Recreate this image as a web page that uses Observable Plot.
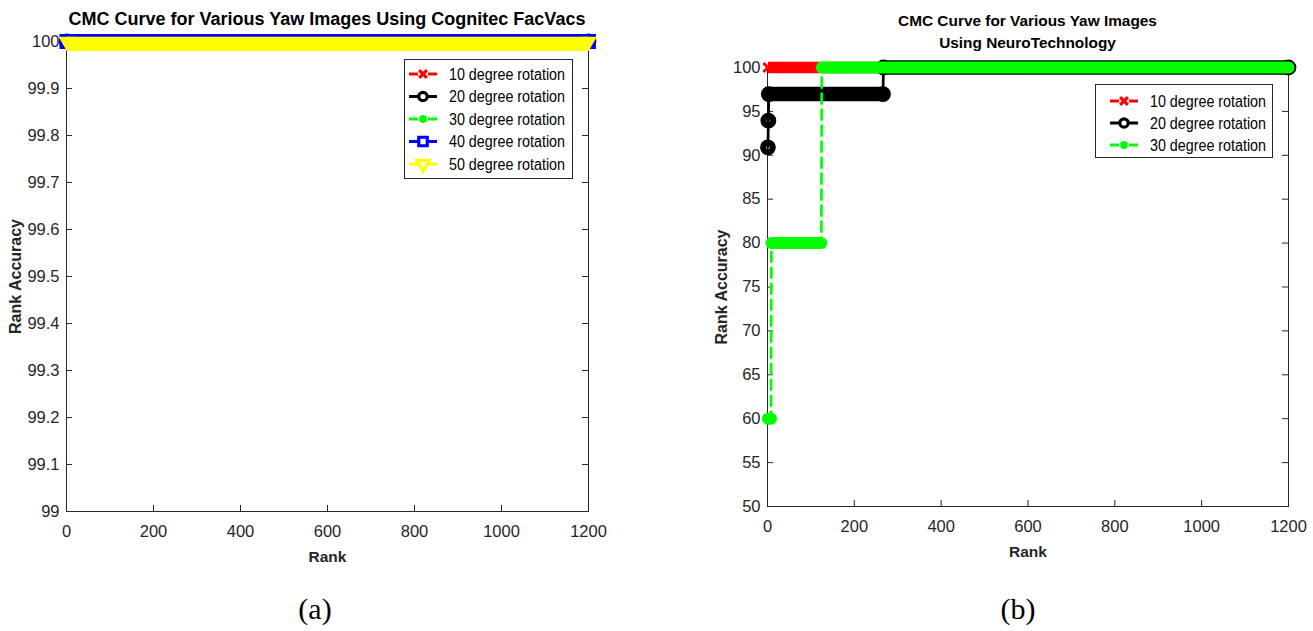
<!DOCTYPE html>
<html><head><meta charset="utf-8">
<script src="https://cdn.jsdelivr.net/npm/d3@7"></script>
<script src="https://cdn.jsdelivr.net/npm/@observablehq/plot@0.6"></script>
<style>
html,body{margin:0;padding:0;background:#fff;}
#root{position:relative;width:1313px;height:631px;overflow:hidden;font-family:"Liberation Sans",Arial,sans-serif;}
#root > svg{position:absolute;}
</style></head><body><div id="root"></div>
<script>
// ---------- data ----------
const xTicks = [0, 200, 400, 600, 800, 1000, 1200];
const xTickLabels = ["0", "200", "400", "600", "800", "1000", "1200"];
const yTicksA = [99, 99.1, 99.2, 99.3, 99.4, 99.5, 99.6, 99.7, 99.8, 99.9, 100];
const yTickLabelsA = ["99", "99.1", "99.2", "99.3", "99.4", "99.5", "99.6", "99.7", "99.8", "99.9", "100"];
const yTicksB = [50, 55, 60, 65, 70, 75, 80, 85, 90, 95, 100];

const seriesA = ["10 degree rotation", "20 degree rotation", "30 degree rotation", "40 degree rotation", "50 degree rotation"];
const ranksA10 = [1, 1200], accA10 = [100, 100];
const ranksA20 = [1, 1200], accA20 = [100, 100];
const ranksA30 = [1, 1200], accA30 = [100, 100];
const ranksA40 = [1, 1200], accA40 = [100, 100];
const ranksA50 = [1, 1200], accA50 = [100, 100];

const seriesB = ["10 degree rotation", "20 degree rotation", "30 degree rotation"];
const ranksB10 = [1, 1200], accB10 = [100, 100];
const ranksB20 = [1, 2, 3, 266, 267, 1200], accB20 = [90.91, 93.94, 96.97, 96.97, 100, 100];
const ranksB30 = [1, 8, 9, 124, 125, 1200], accB30 = [60, 60, 80, 80, 100, 100];

const titleA = "CMC Curve for Various Yaw Images Using Cognitec FacVacs";
const titleB = ["CMC Curve for Various Yaw Images", "Using NeuroTechnology"];
const xLabel = "Rank", yLabel = "Rank Accuracy";

// ---------- styles ----------
const triDown = {draw(ctx, size) {
  const y = Math.sqrt(size / (Math.sqrt(3) * 3)), s3 = Math.sqrt(3);
  ctx.moveTo(0, 2 * y); ctx.lineTo(-s3 * y, -y); ctx.lineTo(s3 * y, -y); ctx.closePath();
}};
const styles = [
  {color: "#ff0000", symbol: "times", d3sym: d3.symbolTimes, r: 4.2, sw: 3, band: 11.5, cap: "butt", dash: "10,6", lr: 3.6},
  {color: "#000000", symbol: "circle", d3sym: d3.symbolCircle, r: 4.9, sw: 6, band: 14.5, cap: "round", dash: null, lr: 4.2},
  {color: "#00ff00", symbol: "asterisk", d3sym: d3.symbolAsterisk, r: 4.3, sw: 3.5, band: 12, cap: "round", dash: "10,6", lr: 3.8},
  {color: "#0000ff", symbol: "square", d3sym: d3.symbolSquare, r: 6.3, sw: 3, band: 14.8, cap: "square", dash: "10,6", lr: 4.8},
  {color: "#ffff00", symbol: triDown, d3sym: triDown, r: 6.2, sw: 0, filled: true, band: 14.2, bandDy: 2.35, cap: "butt", dash: "10,6", lr: 4.6}
];
const AX = "#262626";
const FONT = '"Liberation Sans", Arial, sans-serif';

function seriesMarks(ranks, acc, st) {
  const pts = ranks.map((r, i) => ({rank: r, acc: acc[i]}));
  const segs = d3.pairs(pts).filter(([a, b]) => a.acc === b.acc).map(([a, b]) => ({r1: a.rank, r2: b.rank, acc: a.acc}));
  return [
    Plot.line(pts, {x: "rank", y: "acc", stroke: st.color, strokeWidth: 2.7, strokeDasharray: st.dash || undefined}),
    Plot.link(segs, {x1: "r1", x2: "r2", y1: "acc", y2: "acc", stroke: st.color, strokeWidth: st.band, strokeLinecap: st.cap, dy: st.bandDy || 0}),
    Plot.dot(pts, {x: "rank", y: "acc", symbol: st.symbol, r: st.r,
      fill: st.filled ? st.color : "none", stroke: st.filled ? "none" : st.color, strokeWidth: st.sw})
  ];
}

function frameMarks(yTicks, W, H) {
  return [
    Plot.frame({stroke: AX, strokeWidth: 1}),
    Plot.ruleY(yTicks, {stroke: AX, insetRight: W - 6}),
    Plot.ruleY(yTicks, {stroke: AX, insetLeft: W - 6}),
    Plot.ruleX(xTicks, {stroke: AX, insetTop: H - 6}),
    Plot.ruleX(xTicks, {stroke: AX, insetBottom: H - 6})
  ];
}
function labelMarks(dxY) {
  return [
    Plot.text([xLabel], {frameAnchor: "bottom", dy: 46, lineAnchor: "middle", textAnchor: "middle", fontWeight: "bold", fontSize: 15.5, fill: AX}),
    Plot.text([yLabel], {frameAnchor: "left", dx: dxY, rotate: -90, lineAnchor: "middle", textAnchor: "middle", fontWeight: "bold", fontSize: 16, fill: AX})
  ];
}
const fmtX = d => xTickLabels[xTicks.indexOf(d)];

const root = document.getElementById("root");

// ---------- panel (a) ----------
{
  const L = 66, R = 588, T = 41, B = 511, left = 0, w = 650, h = 580;
  const W = R - L, H = B - T;
  const data = [[ranksA10, accA10], [ranksA20, accA20], [ranksA30, accA30], [ranksA40, accA40], [ranksA50, accA50]];
  const p = Plot.plot({
    width: w, height: h,
    marginLeft: L - left, marginRight: left + w - R, marginTop: T, marginBottom: h - B,
    x: {domain: [0, 1200], label: null},
    y: {domain: [99, 100], label: null},
    style: {fontFamily: FONT, fontSize: "16.5px", color: AX, background: "transparent", overflow: "visible"},
    marks: [
      ...frameMarks(yTicksA, W, H),
      Plot.axisY(yTicksA, {tickSize: 0, tickPadding: 7, label: null, tickFormat: d => yTickLabelsA[yTicksA.indexOf(d)]}),
      Plot.axisX(xTicks, {tickSize: 0, tickPadding: 14, label: null, tickFormat: fmtX}),
      ...data.flatMap(([r, a], i) => seriesMarks(r, a, styles[i])),
      ...labelMarks(-51)
    ]
  });
  p.style.left = left + "px"; p.style.top = "0px";
  root.appendChild(p);
}

// ---------- panel (b) ----------
{
  const L = 767, R = 1288, T = 67, B = 506, left = 660, w = 653, h = 580;
  const W = R - L, H = B - T;
  const data = [[ranksB10, accB10], [ranksB20, accB20], [ranksB30, accB30]];
  const p = Plot.plot({
    width: w, height: h,
    marginLeft: L - left, marginRight: left + w - R, marginTop: T, marginBottom: h - B,
    x: {domain: [0, 1200], label: null},
    y: {domain: [50, 100], label: null},
    style: {fontFamily: FONT, fontSize: "16.5px", color: AX, background: "transparent", overflow: "visible"},
    marks: [
      ...frameMarks(yTicksB, W, H),
      Plot.axisY(yTicksB, {tickSize: 0, tickPadding: 7, label: null}),
      Plot.axisX(xTicks, {tickSize: 0, tickPadding: 14, label: null, tickFormat: fmtX}),
      ...data.flatMap(([r, a], i) => seriesMarks(r, a, styles[i])),
      ...labelMarks(-46)
    ]
  });
  p.style.left = left + "px"; p.style.top = "0px";
  root.appendChild(p);
}

// ---------- overlay: titles, legends, captions ----------
const ov = d3.create("svg").attr("width", 1313).attr("height", 631)
  .style("left", "0px").style("top", "0px").style("pointer-events", "none")
  .style("font-family", FONT);

ov.append("text").attr("x", 327).attr("y", 25).attr("text-anchor", "middle")
  .attr("font-weight", "bold").attr("font-size", 18).attr("fill", "#000").text(titleA);
titleB.forEach((t, i) => ov.append("text").attr("x", 1027.5).attr("y", 26 + i * 22).attr("text-anchor", "middle")
  .attr("font-weight", "bold").attr("font-size", 15.4).attr("fill", "#000").text(t));

function legend(box, names, lineX, textX, rowY0, rowStep) {
  const g = ov.append("g");
  g.append("rect").attr("x", box[0] + 0.5).attr("y", box[1] + 0.5).attr("width", box[2]).attr("height", box[3])
    .attr("fill", "#fff").attr("stroke", AX).attr("stroke-width", 1);
  names.forEach((n, i) => {
    const st = styles[i], y = rowY0 + i * rowStep, cx = lineX + 14;
    g.append("line").attr("x1", lineX).attr("x2", lineX + 9).attr("y1", y).attr("y2", y)
      .attr("stroke", st.color).attr("stroke-width", 3);
    g.append("line").attr("x1", lineX + 19).attr("x2", lineX + 28).attr("y1", y).attr("y2", y)
      .attr("stroke", st.color).attr("stroke-width", 3);
    const sym = d3.symbol().type(st.d3sym).size(Math.PI * st.lr ** 2);
    g.append("path").attr("d", sym()).attr("transform", `translate(${cx},${y})`)
      .attr("fill", "#fff").attr("stroke", st.color).attr("stroke-width", 3.2);
    g.append("text").attr("x", textX).attr("y", y + 5.5).attr("font-size", 16)
      .attr("textLength", 116).attr("lengthAdjust", "spacingAndGlyphs").attr("fill", "#000").text(n);
  });
}
legend([404, 59, 168, 119], seriesA, 409, 449, 74, 22.5);
legend([1095, 84, 177, 73], seriesB, 1110, 1150, 101, 22);

ov.append("text").attr("x", 315).attr("y", 619).attr("text-anchor", "middle")
  .attr("font-family", '"Liberation Serif", "Times New Roman", serif').attr("font-size", 30).attr("fill", "#000").text("(a)");
ov.append("text").attr("x", 1018).attr("y", 619).attr("text-anchor", "middle")
  .attr("font-family", '"Liberation Serif", "Times New Roman", serif').attr("font-size", 30).attr("fill", "#000").text("(b)");

root.appendChild(ov.node());
</script></body></html>
